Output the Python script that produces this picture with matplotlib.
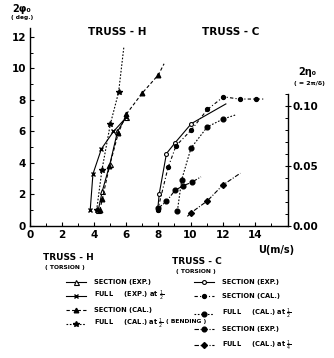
import numpy as np
import matplotlib
matplotlib.use("Agg")
import matplotlib.pyplot as plt
from matplotlib.legend_handler import HandlerLine2D

plt.rcParams['font.family'] = ['DejaVu Sans']
plt.rcParams['mathtext.fontset'] = 'dejavusans'

# ---------------- data ----------------
# TRUSS-H, torsion 2phi0 (deg) vs U (m/s)
h_sec_exp_u = [4.25, 4.5, 4.98, 5.45, 6.0]
h_sec_exp_p = [1.0, 2.2, 3.95, 6.0, 6.95]
h_full_exp_u = [3.75, 3.92, 4.45, 5.2, 6.0]
h_full_exp_p = [1.0, 3.3, 4.9, 6.0, 6.9]
h_sec_cal_u = [4.35, 4.5, 4.95, 5.5, 6.0, 7.0, 8.0, 8.35]
h_sec_cal_p = [1.0, 1.7, 3.8, 5.9, 7.1, 8.45, 9.6, 10.3]
h_full_cal_u = [4.15, 4.48, 5.0, 5.52, 5.85]
h_full_cal_p = [1.0, 3.55, 6.45, 8.5, 11.4]

# TRUSS-C, torsion
c_sec_exp_u = [7.95, 8.05, 8.5, 9.05, 10.05, 12.2]
c_sec_exp_p = [1.0, 2.05, 4.6, 5.3, 6.5, 7.75]
c_sec_cal_u = [7.95, 8.6, 9.1, 10.05, 11.05, 12.05, 13.05, 14.05, 14.6]
c_sec_cal_p = [1.0, 3.72, 5.1, 6.1, 7.4, 8.2, 8.06, 8.06, 8.06]
c_full_cal_u = [9.18, 9.45, 10.03, 11.05, 12.05, 12.8]
c_full_cal_p = [0.95, 2.95, 4.95, 6.3, 6.8, 7.05]

# TRUSS-C, bending 2eta0 (right axis)
b_sec_exp_u = [8.0, 8.5, 9.03, 9.55, 10.07, 10.65]
b_sec_exp_e = [0.015, 0.0205, 0.0297, 0.0336, 0.0364, 0.041]
b_full_cal_u = [9.8, 10.05, 11.05, 12.0, 13.1]
b_full_cal_e = [0.008, 0.0112, 0.021, 0.034, 0.044]

x_ticks = [0, 2, 4, 6, 8, 10, 12, 14]
y_ticks = [0, 2, 4, 6, 8, 10, 12]
r_ticks = [0.0, 0.05, 0.10]
r_labels = ['0.00', '0.05', '0.10']

# ---------------- figure ----------------
W, H = 334, 358
fig = plt.figure(figsize=(W / 100, H / 100), dpi=100)
ax = fig.add_axes([30 / W, 132 / H, 258 / W, 198 / H])
ax.set_xlim(0, 16.07)
ax.set_ylim(0, 12.57)
ax2 = ax.twinx()
ax2.set_ylim(0, 0.165)

k = dict(color='black', lw=0.8)
l1, = ax.plot(h_sec_exp_u, h_sec_exp_p, '-', marker='^', ms=3.6, mfc='white', mec='black', mew=0.8, **k)
l2, = ax.plot(h_full_exp_u, h_full_exp_p, '-', marker='x', ms=3.2, mew=1.0, **k)
l3, = ax.plot(h_sec_cal_u, h_sec_cal_p, marker='^', ms=3.3, mfc='black', ls=(0, (3, 2)),
              markevery=list(range(len(h_sec_cal_u) - 1)), **k)
l4, = ax.plot(h_full_cal_u, h_full_cal_p, marker='*', ms=4.2, mfc='black', ls=(0, (1.5, 1.5)),
              markevery=list(range(len(h_full_cal_u) - 1)), **k)

c1, = ax.plot(c_sec_exp_u, c_sec_exp_p, '-', marker='o', ms=2.8, mfc='white', mec='black', mew=0.8,
              markevery=list(range(len(c_sec_exp_u) - 1)), **k)
c2, = ax.plot(c_sec_cal_u, c_sec_cal_p, marker='o', ms=2.8, mfc='black', ls=(0, (3, 2, 1, 2)),
              markevery=list(range(len(c_sec_cal_u) - 1)), **k)
c3, = ax.plot(c_full_cal_u, c_full_cal_p, marker='o', ms=3.4, mfc='black', ls=(0, (1.5, 1.5)),
              markevery=list(range(len(c_full_cal_u) - 1)), **k)

b1, = ax2.plot(b_sec_exp_u, b_sec_exp_e, marker='o', ms=3.4, mfc='black', ls=(0, (4, 1.5, 1, 1.5)),
               markevery=list(range(len(b_sec_exp_u) - 1)), **k)
b2, = ax2.plot(b_full_cal_u, b_full_cal_e, marker='D', ms=3.0, mfc='black', ls=(0, (4, 1.5, 1, 1.5)),
               markevery=[1, 2, 3], **k)

# ---------------- axes styling ----------------
for s in ['top', 'right']:
    ax.spines[s].set_visible(False)
for s in ['top', 'left', 'bottom']:
    ax2.spines[s].set_visible(False)
ax2.spines['right'].set_bounds(0, 0.11)
for sp in list(ax.spines.values()) + list(ax2.spines.values()):
    sp.set_linewidth(1.0)

tf = dict(fontsize=7.5, fontweight='bold')
ax.set_xticks(x_ticks)
ax.set_xticklabels([str(v) for v in x_ticks], **tf)
ax.set_xticks(np.arange(1, 16, 2), minor=True)
ax.set_yticks(y_ticks)
ax.set_yticklabels([str(v) for v in y_ticks], **tf)
ax.set_yticks(np.arange(1, 13, 2), minor=True)
ax.tick_params(which='major', direction='in', length=3, width=0.8, pad=3)
ax.tick_params(which='minor', direction='in', length=2, width=0.7)
ax2.set_yticks(r_ticks)
ax2.set_yticklabels(r_labels, **tf)
ax2.set_yticks(np.arange(0.01, 0.111, 0.01), minor=True)
ax2.tick_params(which='major', direction='inout', length=5, width=0.8, pad=1)
ax2.tick_params(which='minor', direction='in', length=2, width=0.7)


def fx(px):
    return px / W


def fy(py):
    return 1 - py / H


fig.text(fx(22), fy(9), '2φ₀', fontsize=7, fontweight='bold', ha='center', va='center')
fig.text(fx(22), fy(17), '( deg.)', fontsize=4.2, fontweight='bold', ha='center', va='center')
fig.text(fx(117), fy(32), 'TRUSS - H', fontsize=7.5, fontweight='bold', ha='center', va='center')
fig.text(fx(231), fy(32), 'TRUSS - C', fontsize=7.5, fontweight='bold', ha='center', va='center')
fig.text(fx(307), fy(72), '2η₀', fontsize=7, fontweight='bold', ha='center', va='center')
fig.text(fx(309), fy(83), '( = 2π/δ)', fontsize=4.5, fontweight='bold', ha='center', va='center')
fig.text(fx(276), fy(250), 'U(m/s)', fontsize=7, fontweight='bold', ha='center', va='center')

fig.text(fx(43), fy(257), 'TRUSS - H', fontsize=6.5, fontweight='bold', ha='left', va='center')
fig.text(fx(45), fy(268), '( TORSION )', fontsize=4.3, fontweight='bold', ha='left', va='center')
fig.text(fx(172), fy(262), 'TRUSS - C', fontsize=6.5, fontweight='bold', ha='left', va='center')
fig.text(fx(176), fy(272), '( TORSION )', fontsize=4.3, fontweight='bold', ha='left', va='center')
fig.text(fx(166), fy(321), '( BENDING )', fontsize=4.3, fontweight='bold', ha='left', va='center')


class LeftMarker(HandlerLine2D):
    def get_xdata(self, legend, xdescent, ydescent, width, height, fontsize):
        xdata = np.array([-xdescent, -xdescent + width])
        return xdata, np.array([-xdescent])


hm = {h: LeftMarker() for h in [l1, l2, l3, l4, c1, c2, c3, b1, b2]}


def leg(handles, labels, x, y, spacing):
    return fig.legend(handles, labels, loc='upper left', bbox_to_anchor=(fx(x), fy(y)),
                      frameon=False, handlelength=3.0, handletextpad=1.2,
                      labelspacing=spacing, borderpad=0, borderaxespad=0, numpoints=1,
                      prop={'weight': 'bold', 'size': 4.8}, handler_map=hm)


leg([l1, l2, l3, l4],
    ['SECTION (EXP.)', r'FULL     (EXP.) at $\frac{1}{2}$',
     'SECTION (CAL.)', r'FULL     (CAL.) at $\frac{1}{2}$'], 66, 279, 0.6)
leg([c1, c2, c3],
    ['SECTION (EXP.)', 'SECTION (CAL.)', r'FULL     (CAL.) at $\frac{1}{2}$'], 194, 279, 1.2)
leg([b1, b2],
    ['SECTION (EXP.)', r'FULL     (CAL.) at $\frac{1}{4}$'], 194, 326, 1.0)

fig.savefig('out.png', dpi=100)
